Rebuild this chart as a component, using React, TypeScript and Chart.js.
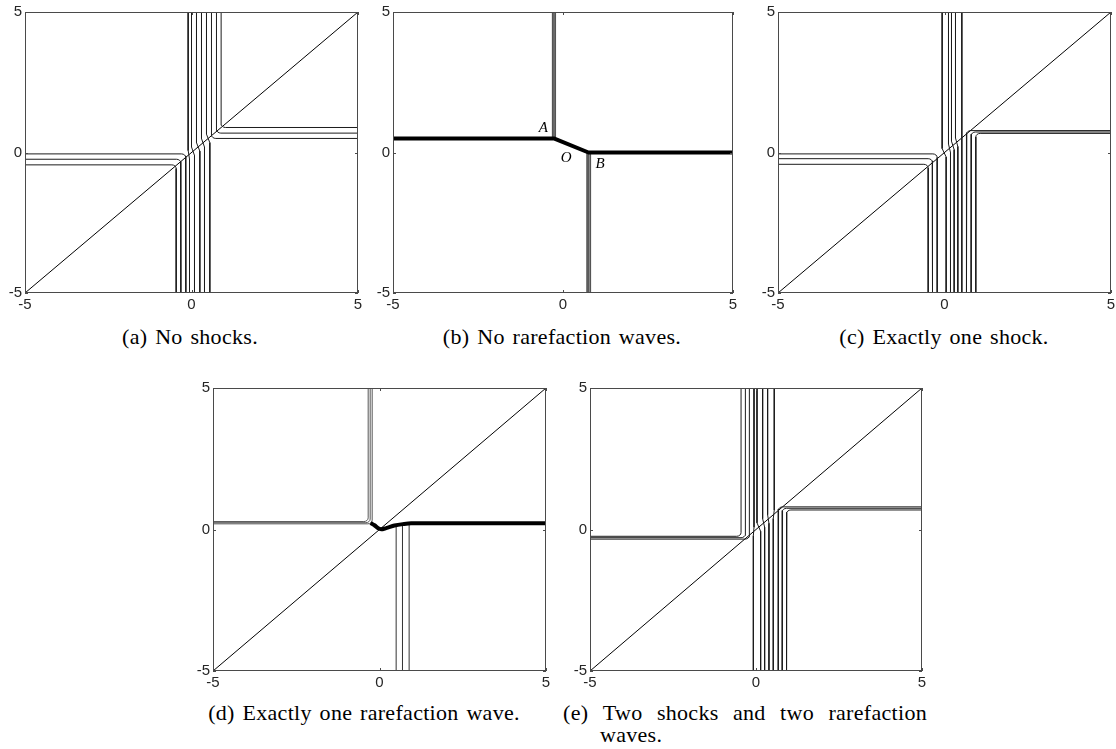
import React, { useEffect, useRef } from 'react';
import { Chart, registerables } from 'chart.js';

Chart.register(...registerables);

// ---------------- shared axis data ----------------
const axisMin = -5;
const axisMax = 5;
const tickValues = [-5, 0, 5];
const tickLabels = ['-5', '0', '5'];
const diagonalX = [-5, 5];
const diagonalY = [-5, 5];

// ---------------- (a) No shocks ----------------
const aLeftLevels = [-0.05, -0.24, -0.44];
const aLeftTurns = [-0.17, -0.32, -0.46];
const aRightLevels = [0.5, 0.69, 0.89];
const aRightTurns = [0.6, 0.75, 0.89];
const aThroughTop = [-0.1, 0.0, 0.15, 0.3, 0.45];
const aThroughBottom = [-0.06, 0.09, 0.25, 0.39, 0.55];

// ---------------- (b) No rarefaction waves ----------------
const bThickX = [-5, -0.27, 0.75, 5];
const bThickY = [0.5, 0.5, 0.0, 0.0];
const bUpperX = [-0.31, -0.265, -0.22];
const bUpperFoot = 0.5;
const bLowerX = [0.71, 0.76, 0.81];
const bLowerHead = 0.0;
const bPointNames = ['A', 'O', 'B'];
const bPointX = [-0.58, 0.09, 1.09];
const bPointY = [0.86, -0.19, -0.41];

// ---------------- (c) Exactly one shock ----------------
const cLeftLevels = [-0.05, -0.22, -0.42];
const cLeftTurns = [-0.22, -0.36, -0.49];
const cRightLevels = [0.78, 0.73, 0.68];
const cRightTurns = [0.66, 0.8, 0.94];
const cThroughTop = [-0.07, 0.12, 0.21, 0.33, 0.52];
const cThroughBottom = [0.05, 0.18, 0.29, 0.4, 0.52];

// ---------------- (d) Exactly one rarefaction wave ----------------
const dUpperTurns = [-0.22, -0.28, -0.34];
const dUpperLevels = [0.2, 0.24, 0.28];
const dDipX = [-0.27, -0.15, -0.05, 0.05, 0.2, 0.45, 0.7, 0.95, 5];
const dDipY = [0.23, 0.15, 0.05, 0.01, 0.05, 0.14, 0.19, 0.22, 0.22];
const dLowerX = [0.5, 0.69, 0.89];
const dLowerTop = [0.14, 0.18, 0.21];

// ---------------- (e) Two shocks and two rarefaction waves ----------------
const eLeftLevels = [-0.24, -0.29, -0.34];
const eLeftTurns = [-0.45, -0.32, -0.2];
const eRightLevels = [0.8, 0.75, 0.69];
const eRightTurns = [0.67, 0.79, 0.92];
const eThroughTop = [-0.06, 0.03, 0.2, 0.35, 0.55];
const eThroughBottom = [-0.08, 0.14, 0.26, 0.39, 0.52];

// ---------------- captions ----------------
const captionA = '(a) No shocks.';
const captionB = '(b) No rarefaction waves.';
const captionC = '(c) Exactly one shock.';
const captionD = '(d) Exactly one rarefaction wave.';
const captionE1 = ['(e)', 'Two', 'shocks', 'and', 'two', 'rarefaction'];
const captionE2 = 'waves.';

// ---------------- geometry helpers ----------------
const R = 0.13; // corner rounding radius (data units)
const J = 0.15; // half height of the jog where lines cross the diagonal

type P = { x: number; y: number };

function corner(turnX: number, level: number, hSide: number, vSide: number): P[] {
  const cx = turnX + hSide * R;
  const cy = level + vSide * R;
  const pts: P[] = [
    { x: hSide * axisMax, y: level },
    { x: cx, y: level },
  ];
  for (const a of [22.5, 45, 67.5]) {
    const t = (a * Math.PI) / 180;
    pts.push({ x: cx - hSide * R * Math.sin(t), y: cy - vSide * R * Math.cos(t) });
  }
  pts.push({ x: turnX, y: cy }, { x: turnX, y: vSide * axisMax });
  return pts;
}

function through(xt: number, xb: number): P[] {
  const m = (xt + xb) / 2;
  return [
    { x: xt, y: axisMax },
    { x: xt, y: m + J },
    { x: xb, y: m - J },
    { x: xb, y: axisMin },
  ];
}

const zip = (xs: number[], ys: number[]): P[] => xs.map((x, i) => ({ x, y: ys[i] }));

const thin = (pts: P[], color = '#1c1c1c') => ({
  data: pts,
  showLine: true,
  borderColor: color,
  borderWidth: 1,
  pointRadius: 0,
  tension: 0,
  borderJoinStyle: 'round' as const,
});

const thick = (pts: P[], smooth = false) => ({
  data: pts,
  showLine: true,
  borderColor: '#000',
  borderWidth: 4,
  pointRadius: 0,
  tension: 0,
  cubicInterpolationMode: smooth ? ('monotone' as const) : ('default' as const),
  borderJoinStyle: 'round' as const,
});

const diag = () => ({
  data: zip(diagonalX, diagonalY),
  showLine: true,
  borderColor: '#000',
  borderWidth: 1,
  pointRadius: 0,
});

const BUNDLE = '#555';

// ---------------- panel specs ----------------
type Spec = {
  id: string;
  left: number;
  top: number;
  right: number;
  bottom: number;
  datasets: any[];
  texts?: { t: string; x: number; y: number }[];
};

const specs: Spec[] = [
  {
    id: 'a', left: 25, top: 12, right: 358, bottom: 293,
    datasets: [
      ...aLeftTurns.map((t, i) => thin(corner(t, aLeftLevels[i], -1, -1))),
      ...aRightTurns.map((t, i) => thin(corner(t, aRightLevels[i], 1, 1))),
      ...aThroughTop.map((t, i) => thin(through(t, aThroughBottom[i]))),
      diag(),
    ],
  },
  {
    id: 'b', left: 393, top: 12, right: 733, bottom: 293,
    datasets: [
      thick(zip(bThickX, bThickY)),
      ...bUpperX.map((x) => thin([{ x, y: axisMax }, { x, y: bUpperFoot }], BUNDLE)),
      ...bLowerX.map((x) => thin([{ x, y: bLowerHead }, { x, y: axisMin }], BUNDLE)),
    ],
    texts: bPointNames.map((t, i) => ({ t, x: bPointX[i], y: bPointY[i] })),
  },
  {
    id: 'c', left: 778, top: 12, right: 1111, bottom: 293,
    datasets: [
      ...cLeftTurns.map((t, i) => thin(corner(t, cLeftLevels[i], -1, -1))),
      ...cRightTurns.map((t, i) => thin(corner(t, cRightLevels[i], 1, -1))),
      ...cThroughTop.map((t, i) => thin(through(t, cThroughBottom[i]))),
      diag(),
    ],
  },
  {
    id: 'd', left: 213, top: 388, right: 546, bottom: 671,
    datasets: [
      thick(zip(dDipX, dDipY), true),
      ...dUpperTurns.map((t, i) => thin(corner(t, dUpperLevels[i], -1, 1), BUNDLE)),
      ...dLowerX.map((x, i) => thin([{ x, y: axisMin }, { x, y: dLowerTop[i] }], '#333')),
      diag(),
    ],
  },
  {
    id: 'e', left: 590, top: 388, right: 922, bottom: 671,
    datasets: [
      ...eLeftTurns.map((t, i) => thin(corner(t, eLeftLevels[i], -1, 1))),
      ...eRightTurns.map((t, i) => thin(corner(t, eRightLevels[i], 1, -1))),
      ...eThroughTop.map((t, i) => thin(through(t, eThroughBottom[i]))),
      diag(),
    ],
  },
];

const AX_W = 30;
const AX_H = 28;
const PAD_T = 12;
const PAD_R = 12;
const TICK_FONT = { family: 'Liberation Sans', size: 15 };
const TICK_COLOR = '#262626';

const framePlugin = {
  id: 'frame',
  afterDatasetsDraw(chart: any, _args: any, opts: any) {
    const { ctx, chartArea: a, scales } = chart;
    ctx.save();
    ctx.strokeStyle = '#4a4a4a';
    ctx.lineWidth = 1;
    ctx.strokeRect(a.left + 0.5, a.top + 0.5, a.right - a.left - 1, a.bottom - a.top - 1);
    const TL = 3;
    ctx.beginPath();
    for (const v of tickValues) {
      const x = Math.round(scales.x.getPixelForValue(v)) + 0.5;
      ctx.moveTo(x, a.top);
      ctx.lineTo(x, a.top + TL);
      ctx.moveTo(x, a.bottom);
      ctx.lineTo(x, a.bottom - TL);
      const y = Math.round(scales.y.getPixelForValue(v)) + 0.5;
      ctx.moveTo(a.left, y);
      ctx.lineTo(a.left + TL, y);
      ctx.moveTo(a.right, y);
      ctx.lineTo(a.right - TL, y);
    }
    ctx.stroke();
    const texts = (opts && opts.texts) || [];
    ctx.fillStyle = '#000';
    ctx.font = 'italic 15px "Liberation Serif", serif';
    ctx.textAlign = 'center';
    ctx.textBaseline = 'middle';
    for (const t of texts) {
      ctx.fillText(t.t, scales.x.getPixelForValue(t.x), scales.y.getPixelForValue(t.y));
    }
    ctx.restore();
  },
};

function Panel({ spec }: { spec: Spec }) {
  const ref = useRef<HTMLCanvasElement>(null);
  const w = spec.right - spec.left + AX_W + PAD_R;
  const h = spec.bottom - spec.top + PAD_T + AX_H;
  useEffect(() => {
    const tickLabel = (v: any) => {
      const i = tickValues.indexOf(Number(v));
      return i >= 0 ? tickLabels[i] : '';
    };
    const axis = (isX: boolean) => ({
      type: 'linear' as const,
      min: axisMin,
      max: axisMax,
      afterFit: (s: any) => {
        if (isX) s.height = AX_H;
        else s.width = AX_W;
      },
      afterBuildTicks: (s: any) => {
        s.ticks = tickValues.map((value) => ({ value }));
      },
      ticks: {
        callback: tickLabel,
        padding: isX ? 3 : 3,
        font: TICK_FONT,
        color: TICK_COLOR,
        maxRotation: 0,
        autoSkip: false,
      },
      grid: { display: false, drawTicks: false },
      border: { display: false },
    });
    const chart = new Chart(ref.current as HTMLCanvasElement, {
      type: 'scatter',
      data: { datasets: spec.datasets },
      options: {
        animation: false,
        responsive: false,
        maintainAspectRatio: false,
        devicePixelRatio: 1,
        events: [],
        layout: { padding: { left: 0, top: PAD_T, right: PAD_R, bottom: 0 } },
        plugins: {
          legend: { display: false },
          tooltip: { enabled: false },
          // @ts-ignore
          frame: { texts: spec.texts || [] },
        },
        scales: { x: axis(true), y: axis(false) },
      } as any,
      plugins: [framePlugin],
    });
    return () => chart.destroy();
  }, []);
  return (
    <canvas
      ref={ref}
      width={w}
      height={h}
      style={{ position: 'absolute', left: spec.left - AX_W, top: spec.top - PAD_T, width: w, height: h }}
    />
  );
}

const CAP_FONT = '22px "Liberation Serif", "Times New Roman", serif';
const CAP_ASC = 18.4;

function Caption({ text, cx, baseline }: { text: string; cx: number; baseline: number }) {
  return (
    <div
      style={{
        position: 'absolute',
        left: cx,
        top: baseline - CAP_ASC,
        transform: 'translateX(-50%)',
        font: CAP_FONT,
        lineHeight: '22px',
        whiteSpace: 'nowrap',
        letterSpacing: '0.3px',
        wordSpacing: '2px',
        color: '#000',
      }}
    >
      {text}
    </div>
  );
}

export default function App() {
  return (
    <div style={{ position: 'absolute', left: 0, top: 0, width: 1116, height: 749, background: '#fff', overflow: 'hidden' }}>
      {specs.map((s) => (
        <Panel key={s.id} spec={s} />
      ))}
      <Caption text={captionA} cx={190} baseline={344} />
      <Caption text={captionB} cx={562} baseline={344} />
      <Caption text={captionC} cx={944} baseline={344} />
      <Caption text={captionD} cx={364} baseline={720} />
      <div
        style={{
          position: 'absolute',
          left: 563,
          width: 364,
          top: 720 - CAP_ASC,
          display: 'flex',
          justifyContent: 'space-between',
          font: CAP_FONT,
          lineHeight: '22px',
          whiteSpace: 'nowrap',
          letterSpacing: '0.3px',
          color: '#000',
        }}
      >
        {captionE1.map((w, i) => (
          <span key={i}>{w}</span>
        ))}
      </div>
      <div
        style={{
          position: 'absolute',
          left: 600,
          top: 742 - CAP_ASC,
          font: CAP_FONT,
          lineHeight: '22px',
          whiteSpace: 'nowrap',
          letterSpacing: '0.3px',
          color: '#000',
        }}
      >
        {captionE2}
      </div>
    </div>
  );
}
